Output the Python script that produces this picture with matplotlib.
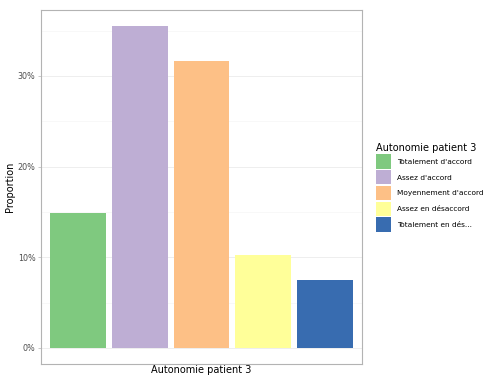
import matplotlib
matplotlib.use("Agg")
import matplotlib.pyplot as plt
from matplotlib.patches import Patch
from matplotlib.ticker import MultipleLocator, FuncFormatter

categories = ["Totalement d'accord", "Assez d'accord", "Moyennement d'accord",
              "Assez en désaccord", "Totalement en dés..."]
values = [14.9, 35.5, 31.6, 10.3, 7.5]
colors = ["#7FC97F", "#BEAED4", "#FDC086", "#FFFF99", "#386CB0"]
yticks = [0, 10, 20, 30]

W, H = 487, 376
fig = plt.figure(figsize=(W / 100, H / 100), dpi=100)
ax = fig.add_axes([41 / W, 1 - 364 / H, (362 - 41) / W, (364 - 10) / H])

x = list(range(len(categories)))
ax.bar(x, values, width=0.9, color=colors, zorder=3)
ax.set_xlim(-0.6, len(categories) - 0.4)
top = max(values)
ax.set_ylim(-0.05 * top, top * 1.05)

ax.set_yticks(yticks)
ax.yaxis.set_major_formatter(FuncFormatter(lambda v, p: f"{v:.0f}%"))
ax.yaxis.set_minor_locator(MultipleLocator(5))
ax.set_xticks([])
ax.grid(axis="y", which="major", color="#EBEBEB", linewidth=0.6, zorder=0)
ax.grid(axis="y", which="minor", color="#F4F4F4", linewidth=0.4, zorder=0)
ax.tick_params(axis="y", which="major", length=2.5, width=0.5, color="#B3B3B3",
               labelsize=5.8, labelcolor="#4D4D4D", pad=1.5)
ax.tick_params(axis="y", which="minor", length=0)
for s in ax.spines.values():
    s.set_color("#B3B3B3")
    s.set_linewidth(0.8)

ax.set_ylabel("Proportion", fontsize=7, labelpad=2)
ax.set_xlabel("Autonomie patient 3", fontsize=7, labelpad=1)

handles = [Patch(facecolor=c, edgecolor="none") for c in colors]
leg = fig.legend(handles, categories, title="Autonomie patient 3",
                 loc="upper left", bbox_to_anchor=(376 / W, 1 - 143 / H),
                 frameon=False, fontsize=5.3, title_fontsize=7,
                 handlelength=2.0, handleheight=2.6, handletextpad=0.9,
                 labelspacing=0.2, borderaxespad=0, borderpad=0)
leg._legend_box.align = "left"

fig.savefig("out.png", dpi=100)
